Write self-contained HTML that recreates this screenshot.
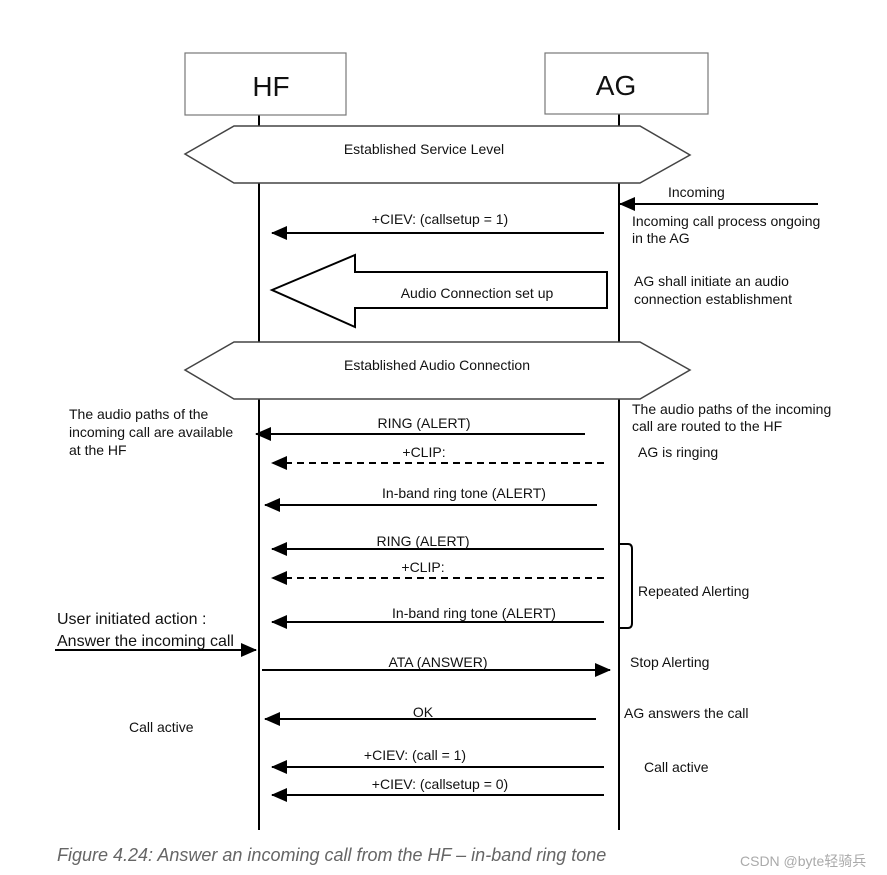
<!DOCTYPE html>
<html><head><meta charset="utf-8"><style>
html,body{margin:0;padding:0;background:#fff;}
svg{display:block;}
text{font-family:"Liberation Sans",Arial,sans-serif;font-size:14px;fill:#111;}
</style></head><body>
<svg width="887" height="875" viewBox="0 0 887 875" xmlns="http://www.w3.org/2000/svg">
<defs>
<marker id="ahr" markerWidth="16" markerHeight="14" refX="15" refY="7" orient="auto" markerUnits="userSpaceOnUse">
<path d="M0,0 L16,7 L0,14 Z" fill="#000"/></marker>
</defs>
<g stroke="#000" stroke-width="2" fill="none">
<line x1="259" y1="115" x2="259" y2="830"/>
<line x1="619" y1="114" x2="619" y2="830"/>
</g>
<rect x="185" y="53" width="161" height="62" fill="#fff" stroke="#777" stroke-width="1.2"/>
<rect x="545" y="53" width="163" height="61" fill="#fff" stroke="#777" stroke-width="1.2"/>
<text x="271" y="96" text-anchor="middle" style="font-size:28px">HF</text>
<text x="616" y="95" text-anchor="middle" style="font-size:28px">AG</text>
<polygon points="185,154 234,126 640,126 690,155 640,183 234,183" fill="#fff" stroke="#444" stroke-width="1.5"/>
<text x="424" y="154" text-anchor="middle">Established Service Level</text>
<polygon points="185,370 234,342 640,342 690,370 640,399 234,399" fill="#fff" stroke="#444" stroke-width="1.5"/>
<text x="437" y="370" text-anchor="middle">Established Audio Connection</text>
<polygon points="272,290 355,255 355,272 607,272 607,308 355,308 355,327" fill="#fff" stroke="#000" stroke-width="2"/>
<text x="477" y="298" text-anchor="middle">Audio Connection set up</text>
<g stroke="#000" stroke-width="2" fill="none">
<line x1="818" y1="204" x2="620" y2="204" marker-end="url(#ahr)"/>
<line x1="604" y1="233" x2="272" y2="233" marker-end="url(#ahr)"/>
<line x1="585" y1="434" x2="256" y2="434" marker-end="url(#ahr)"/>
<line x1="604" y1="463" x2="272" y2="463" stroke-dasharray="7,5" marker-end="url(#ahr)"/>
<line x1="597" y1="505" x2="265" y2="505" marker-end="url(#ahr)"/>
<line x1="604" y1="549" x2="272" y2="549" marker-end="url(#ahr)"/>
<line x1="604" y1="578" x2="272" y2="578" stroke-dasharray="7,5" marker-end="url(#ahr)"/>
<line x1="604" y1="622" x2="272" y2="622" marker-end="url(#ahr)"/>
<line x1="55" y1="650" x2="256" y2="650" marker-end="url(#ahr)"/>
<line x1="262" y1="670" x2="610" y2="670" marker-end="url(#ahr)"/>
<line x1="596" y1="719" x2="265" y2="719" marker-end="url(#ahr)"/>
<line x1="604" y1="767" x2="272" y2="767" marker-end="url(#ahr)"/>
<line x1="604" y1="795" x2="272" y2="795" marker-end="url(#ahr)"/>
<path d="M619,544 L628,544 Q632,544 632,549 L632,623 Q632,628 628,628 L619,628"/>
</g>
<text x="668" y="197">Incoming</text>
<text x="632" y="226">Incoming call process ongoing</text>
<text x="632" y="243">in the AG</text>
<text x="440" y="224" text-anchor="middle">+CIEV: (callsetup = 1)</text>
<text x="634" y="286">AG shall initiate an audio</text>
<text x="634" y="304">connection establishment</text>
<text x="632" y="414">The audio paths of the incoming</text>
<text x="632" y="431">call are routed to the HF</text>
<text x="638" y="457">AG is ringing</text>
<text x="69" y="419">The audio paths of the</text>
<text x="69" y="437">incoming call are available</text>
<text x="69" y="455">at the HF</text>
<text x="424" y="428" text-anchor="middle">RING (ALERT)</text>
<text x="424" y="457" text-anchor="middle">+CLIP:</text>
<text x="464" y="498" text-anchor="middle">In-band ring tone (ALERT)</text>
<text x="423" y="546" text-anchor="middle">RING (ALERT)</text>
<text x="423" y="572" text-anchor="middle">+CLIP:</text>
<text x="474" y="618" text-anchor="middle">In-band ring tone (ALERT)</text>
<text x="638" y="596">Repeated Alerting</text>
<text x="57" y="624" style="font-size:16px">User initiated action :</text>
<text x="57" y="646" style="font-size:16px">Answer the incoming call</text>
<text x="438" y="667" text-anchor="middle">ATA (ANSWER)</text>
<text x="630" y="667">Stop Alerting</text>
<text x="423" y="717" text-anchor="middle">OK</text>
<text x="624" y="718">AG answers the call</text>
<text x="129" y="732">Call active</text>
<text x="415" y="760" text-anchor="middle">+CIEV: (call = 1)</text>
<text x="440" y="789" text-anchor="middle">+CIEV: (callsetup = 0)</text>
<text x="644" y="772">Call active</text>
<text x="57" y="861" style="font-size:18px;font-style:italic;fill:#666">Figure 4.24: Answer an incoming call from the HF – in-band ring tone</text>
<text x="740" y="866" style="font-size:14px;fill:#aaa;font-family:'Liberation Sans','Noto Sans CJK SC',sans-serif">CSDN @byte轻骑兵</text>
</svg>
</body></html>
